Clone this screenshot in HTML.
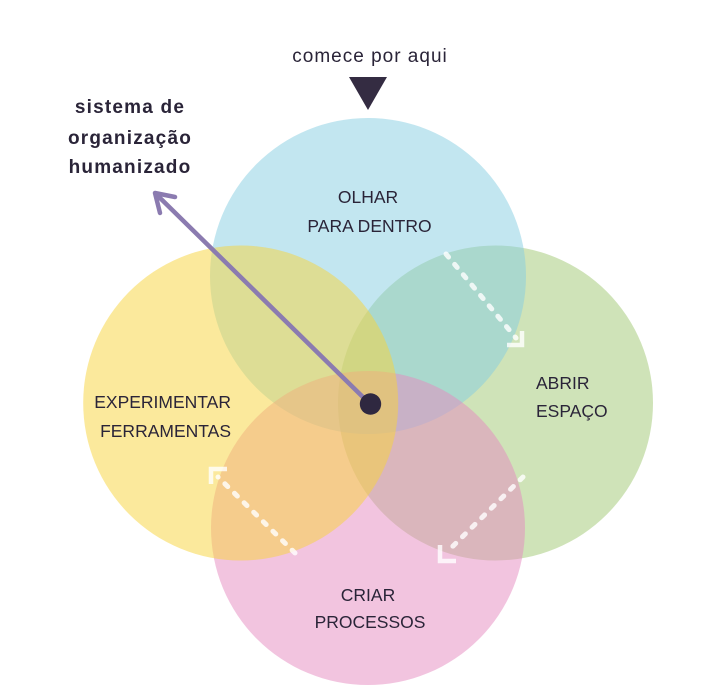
<!DOCTYPE html>
<html>
<head>
<meta charset="utf-8">
<style>
  html, body { margin: 0; padding: 0; background: #ffffff; }
  body { width: 702px; height: 692px; overflow: hidden; }
  svg { display: block; }
  .lbl { font-family: "Liberation Sans", sans-serif; font-size: 17.5px; fill: #2a2438; }
</style>
</head>
<body>
<svg width="702" height="692" viewBox="0 0 702 692" xmlns="http://www.w3.org/2000/svg">
  <rect x="0" y="0" width="702" height="692" fill="#ffffff"/>

  <!-- circles: order green, blue, pink, yellow -->
  <circle cx="495.5" cy="403" r="157.5" fill="rgb(159,199,113)" fill-opacity="0.5"/>
  <circle cx="368" cy="276" r="158" fill="rgb(133,205,225)" fill-opacity="0.5"/>
  <circle cx="368" cy="528" r="157" fill="rgb(229,137,191)" fill-opacity="0.5"/>
  <circle cx="240.7" cy="403" r="157.5" fill="rgb(247,211,57)" fill-opacity="0.5"/>

  <!-- dashed white arrows -->
  <g stroke="#ffffff" stroke-opacity="0.8" stroke-width="5" fill="none" stroke-linecap="round" stroke-linejoin="miter">
    <line x1="446" y1="254" x2="516" y2="338" stroke-dasharray="4 9.5"/>
    <polyline points="522,331 522,345 507,345" stroke-linecap="butt" stroke-width="4.5"/>

    <line x1="523" y1="477" x2="447" y2="552" stroke-dasharray="4 9.5"/>
    <polyline points="440,545 440,561 456,561" stroke-linecap="butt" stroke-width="4.5"/>

    <line x1="295" y1="553" x2="218" y2="477" stroke-dasharray="4 9.5"/>
    <polyline points="211,484 211,469 227,469" stroke-linecap="butt" stroke-width="4.5"/>
  </g>

  <!-- purple arrow -->
  <g stroke="#8b7bb0" stroke-width="4.5" fill="none" stroke-linecap="round" stroke-linejoin="round">
    <line x1="370" y1="404" x2="157" y2="195"/>
    <polyline points="175,197 155,193 160,213"/>
  </g>
  <circle cx="370.5" cy="404" r="10.7" fill="#2f2840"/>

  <!-- start triangle -->
  <polygon points="349,77 387,77 368,110" fill="#342c42"/>

  <!-- top text -->
  <text x="370" y="62" text-anchor="middle" font-family="Liberation Sans, sans-serif" font-size="19" letter-spacing="1" fill="#2a2438">comece por aqui</text>

  <!-- title -->
  <g font-family="Liberation Sans, sans-serif" font-size="19" font-weight="bold" letter-spacing="1.2" fill="#2a2438" text-anchor="middle">
    <text x="130" y="113">sistema de</text>
    <text x="130" y="144">organização</text>
    <text x="130" y="173">humanizado</text>
  </g>

  <!-- labels -->
  <text class="lbl" x="368" y="203" text-anchor="middle">OLHAR</text>
  <text class="lbl" x="369.5" y="232" text-anchor="middle">PARA DENTRO</text>

  <text class="lbl" x="536" y="389">ABRIR</text>
  <text class="lbl" x="536" y="417">ESPAÇO</text>

  <text class="lbl" x="231" y="408" text-anchor="end">EXPERIMENTAR</text>
  <text class="lbl" x="231" y="437" text-anchor="end">FERRAMENTAS</text>

  <text class="lbl" x="368" y="601" text-anchor="middle">CRIAR</text>
  <text class="lbl" x="370" y="628" text-anchor="middle">PROCESSOS</text>
</svg>
</body>
</html>
